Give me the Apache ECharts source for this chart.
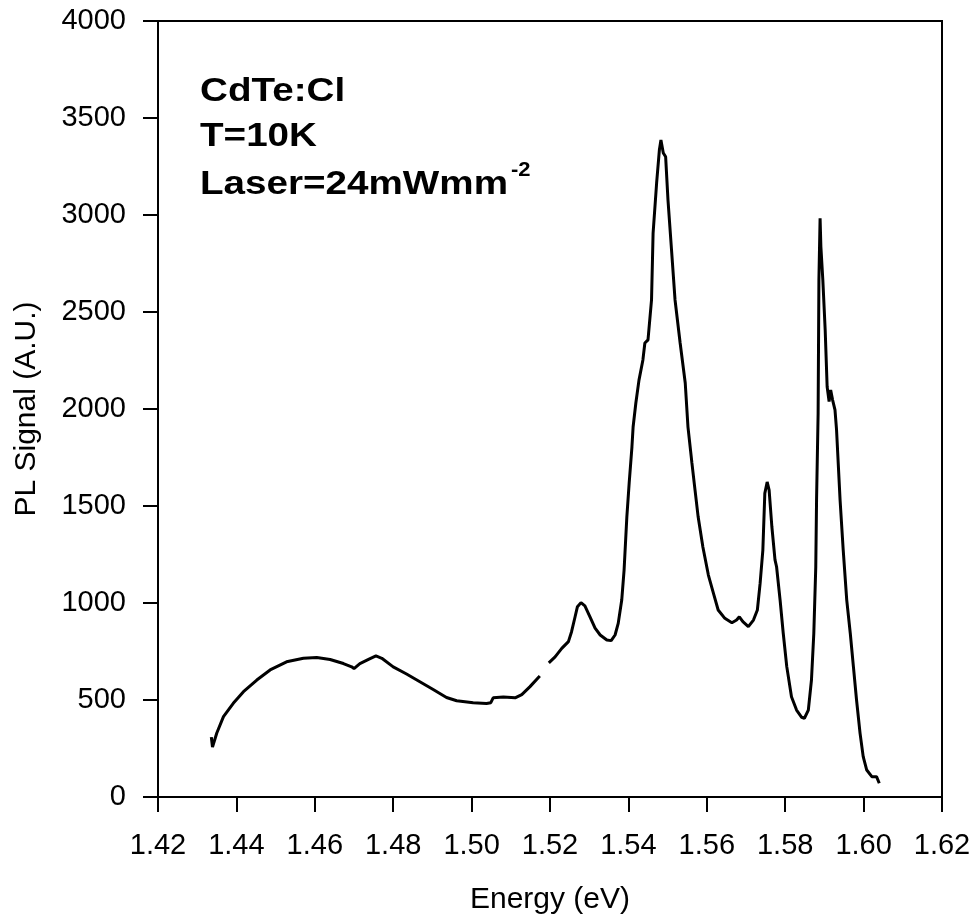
<!DOCTYPE html>
<html>
<head>
<meta charset="utf-8">
<script src="https://cdn.jsdelivr.net/npm/echarts@6/dist/echarts.min.js"></script>
<style>
html,body{margin:0;padding:0;background:#fff;}
#chart{width:975px;height:916px;}
</style>
</head>
<body>
<div id="chart"></div>
<script>
// Photon energy (eV) and PL signal (A.U.); null marks the gap in the trace
var energy = [1.4336,1.4339,1.4350,1.4367,1.4392,1.4418,1.4452,1.4486,1.4528,1.4571,1.4605,1.4639,1.4673,1.4694,1.4700,1.4715,1.4737,1.4756,1.4771,1.4800,1.4834,1.4868,1.4902,1.4936,1.4962,1.5004,1.5038,1.5049,1.5055,1.5081,1.5111,1.5128,1.5149,1.5174,1.5185,
  1.5197,1.5213,1.5230,1.5247,1.5255,1.5264,1.5270,1.5279,1.5289,1.5302,1.5315,1.5328,1.5345,1.5356,1.5366,1.5374,1.5383,1.5389,1.5396,1.5402,1.5409,1.5412,1.5419,1.5427,1.5437,1.5442,1.5450,1.5459,1.5463,1.5472,1.5479,1.5483,1.5489,1.5495,1.5501,1.5510,1.5519,1.5532,1.5545,1.5552,1.5562,1.5570,1.5578,1.5590,1.5604,1.5617,1.5629,1.5646,1.5664,1.5676,1.5683,1.5692,1.5706,1.5719,1.5729,1.5736,1.5743,1.5748,1.5754,1.5759,1.5766,1.5774,1.5778,1.5787,1.5795,1.5804,1.5816,1.5829,1.5842,1.5849,1.5859,1.5867,1.5873,1.5878,1.5880,1.5884,1.5886,1.5889,1.5891,1.5896,1.5902,1.5907,1.5912,1.5916,1.5921,1.5927,1.5931,1.5940,1.5948,1.5957,1.5966,1.5974,1.5982,1.5991,1.5999,1.6008,1.6021,1.6033,1.6037,1.6040];
var signal = [309,258,330,414,483,543,603,655,697,715,719,709,688,671,662,688,709,727,715,671,634,594,554,513,496,486,482,486,511,516,511,528,569,624,null,
  691,722,766,801,852,929,981,1002,985,929,870,835,809,806,835,895,1015,1170,1443,1619,1804,1907,2031,2149,2253,2340,2356,2562,2907,3165,3335,3387,3320,3300,3077,2820,2562,2340,2134,1907,1722,1582,1443,1289,1144,1050,964,921,898,912,929,904,878,912,964,1101,1273,1565,1624,1582,1393,1222,1187,1015,844,672,517,448,411,406,448,603,844,1187,1531,1979,2665,2983,2837,2665,2407,2115,2038,2098,2046,1995,1892,1531,1273,1015,844,672,500,328,208,139,105,105,96,71];
var xTickLabels = ['1.42','1.44','1.46','1.48','1.50','1.52','1.54','1.56','1.58','1.60','1.62'];
var yTickLabels = ['0','500','1000','1500','2000','2500','3000','3500','4000'];
var noteLines = ['CdTe:Cl','T=10K','Laser=24mWmm'];
var noteSup = '-2';

var FONT = '"Liberation Sans", Arial, Helvetica, sans-serif';
var data = energy.map(function(e,i){ return [e, signal[i]]; });
var chart = echarts.init(document.getElementById('chart'), null, {renderer:'canvas'});
chart.setOption({
  animation:false,
  backgroundColor:'#fff',
  grid:{left:158,right:33,top:21,bottom:119,containLabel:false,outerBoundsMode:'none',show:true,borderColor:'#000',borderWidth:2,backgroundColor:'transparent'},
  xAxis:{
    type:'value',min:1.42,max:1.62,interval:0.02,
    name:'Energy (eV)',nameLocation:'middle',nameGap:88,
    nameTextStyle:{fontFamily:FONT,fontSize:30,color:'#000'},
    axisLine:{show:true,lineStyle:{color:'#000',width:2}},
    axisTick:{show:true,length:15,lineStyle:{color:'#000',width:2}},
    splitLine:{show:false},
    axisLabel:{margin:34,fontFamily:FONT,fontSize:29,color:'#000',
      formatter:function(v){ var i=Math.round((v-1.42)/0.02); return xTickLabels[i]||''; }}
  },
  yAxis:{
    type:'value',min:0,max:4000,interval:500,
    name:'PL Signal (A.U.)',nameLocation:'middle',nameGap:116,nameRotate:90,
    nameTextStyle:{fontFamily:FONT,fontSize:30,color:'#000'},
    axisLine:{show:true,lineStyle:{color:'#000',width:2}},
    axisTick:{show:true,length:15,lineStyle:{color:'#000',width:2}},
    splitLine:{show:false},
    axisLabel:{margin:32,fontFamily:FONT,fontSize:29,color:'#000',
      formatter:function(v){ return yTickLabels[Math.round(v/500)]; }}
  },
  series:[{
    type:'line',data:data,showSymbol:false,connectNulls:false,
    lineStyle:{color:'#000',width:3},z:3
  }],
  graphic:[
    {type:'text',x:200,y:92,scaleX:1.17,style:{text:noteLines[0],x:0,y:0,fill:'#000',font:'bold 33px '+FONT,verticalAlign:'middle',align:'left'}},
    {type:'text',x:200,y:137,scaleX:1.17,style:{text:noteLines[1],x:0,y:0,fill:'#000',font:'bold 33px '+FONT,verticalAlign:'middle',align:'left'}},
    {type:'text',x:200,y:185,scaleX:1.17,style:{text:noteLines[2],x:0,y:0,fill:'#000',font:'bold 33px '+FONT,verticalAlign:'middle',align:'left'}},
    {type:'text',x:511,y:170,scaleX:1.1,style:{text:noteSup,x:0,y:0,fill:'#000',font:'bold 20px '+FONT,verticalAlign:'middle',align:'left'}}
  ]
});
</script>
</body>
</html>
